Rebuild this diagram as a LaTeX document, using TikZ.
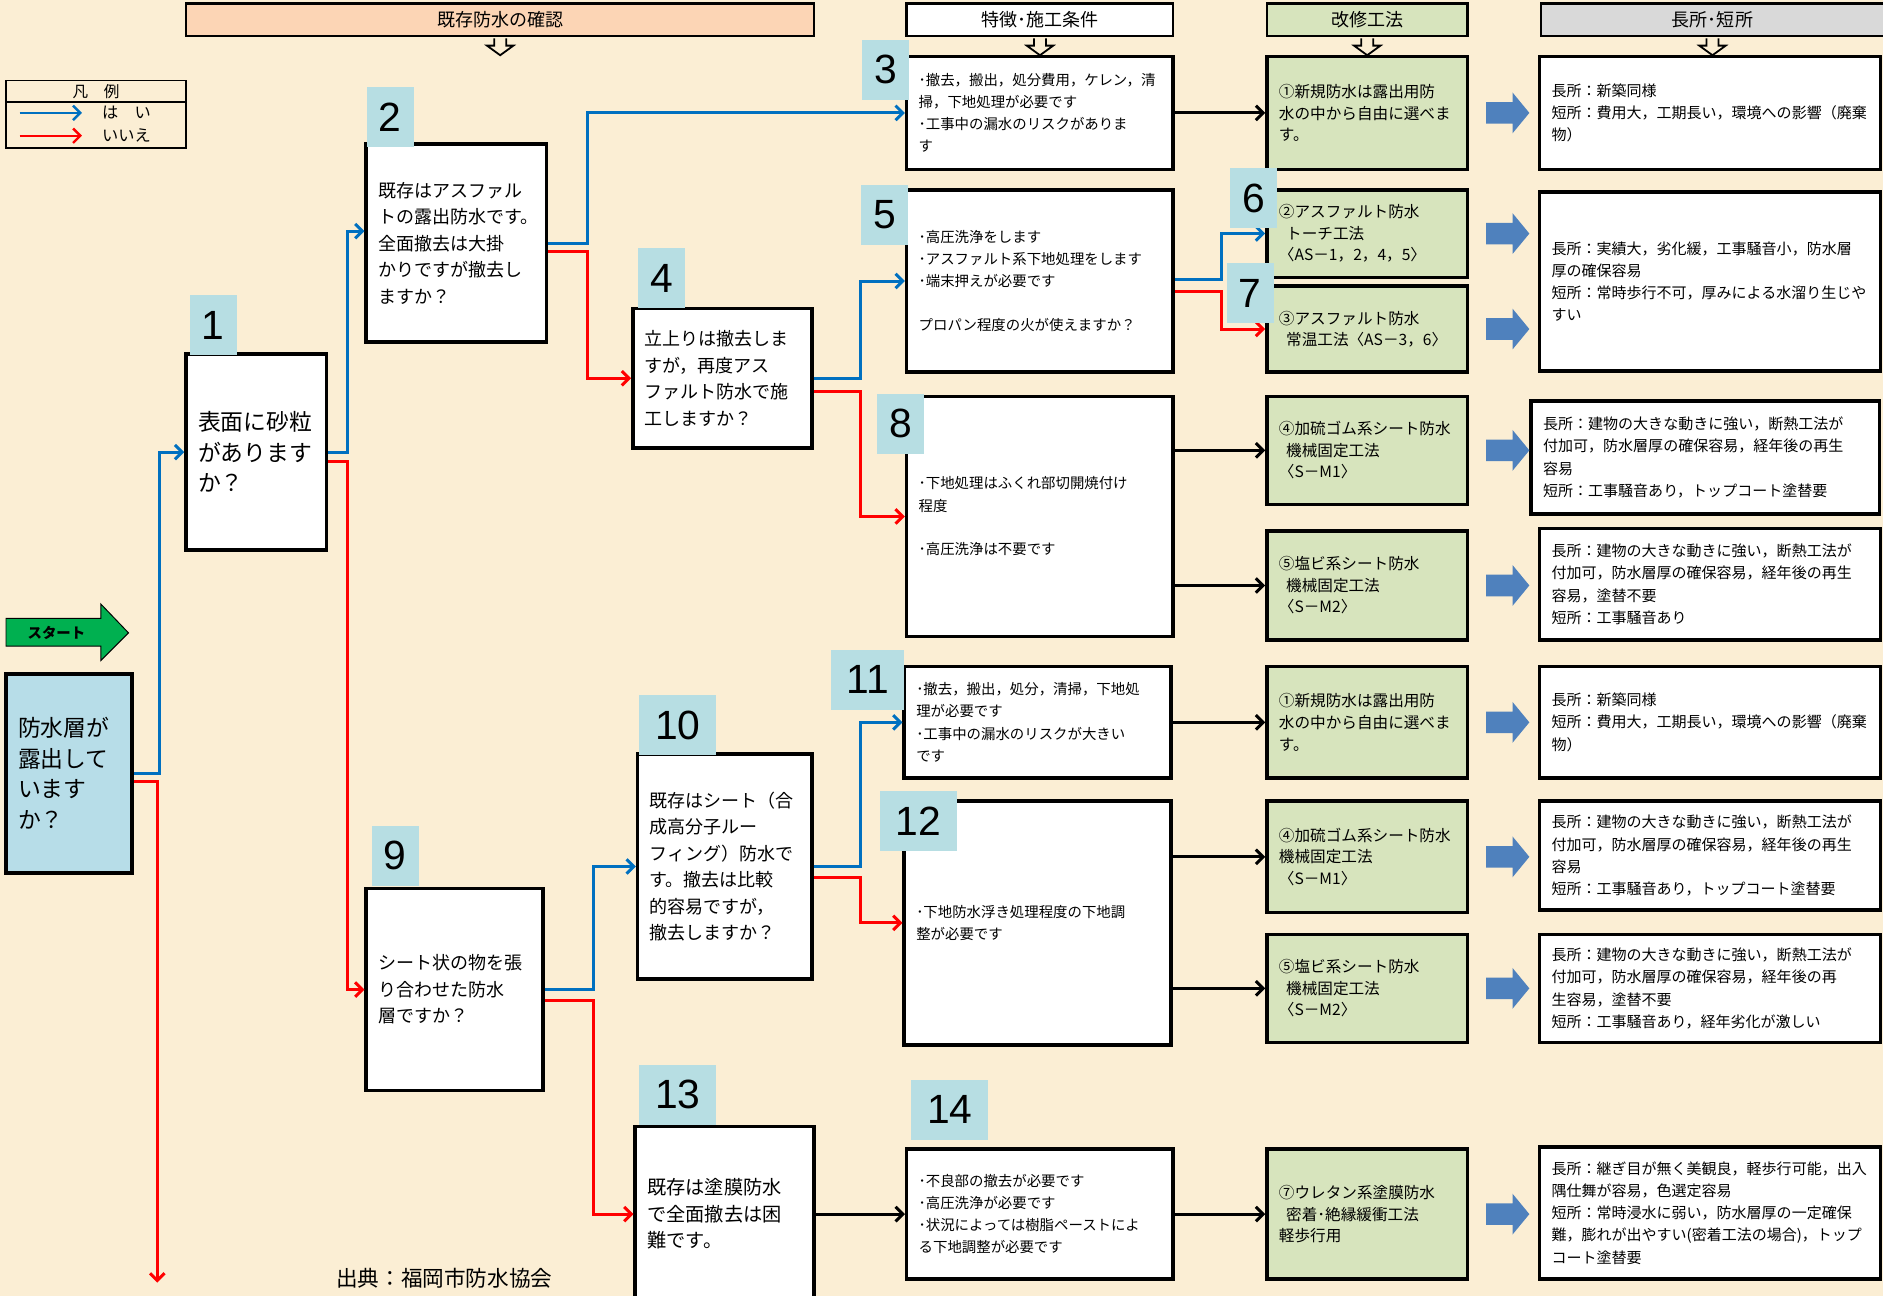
\documentclass[tikz,border=0pt]{standalone}
\usepackage{fontspec}
\setmainfont{Noto Sans CJK JP}
\newfontfamily\numfont{Liberation Sans}
\usepackage{xcolor}
\usetikzlibrary{arrows.meta,calc}
\definecolor{paper}{HTML}{FBEED4}
\definecolor{peach}{HTML}{FCD5B5}
\definecolor{grn}{HTML}{D7E4BD}
\definecolor{greyh}{HTML}{D9D9D9}
\definecolor{tealx}{HTML}{B7DEE3}
\definecolor{boxblue}{HTML}{B7DDE8}
\definecolor{yesblue}{HTML}{0070C0}
\definecolor{nored}{HTML}{FF0000}
\definecolor{blockblue}{HTML}{4F81BD}
\definecolor{startgreen}{HTML}{00B050}

\begin{document}
\begin{tikzpicture}[x=1pt,y=-1pt,
    qbox/.style 2 args={draw,line width=3pt,fill=white,inner xsep=10pt,inner ysep=0pt,
      align=left,text width=#1,minimum height=#2},
    gbox/.style 2 args={qbox={#1}{#2},fill=grn,font=\fontsize{13}{18}\selectfont},
    rbox/.style 2 args={qbox={#1}{#2},font=\fontsize{12.5}{18.5}\selectfont},
    bigf/.style={font=\fontsize{19}{25.5}\selectfont},
    qf/.style={font=\fontsize{15}{22}\selectfont},
    inf/.style={font=\fontsize{12}{18.5}\selectfont},
    num/.style={fill=tealx,inner sep=0pt,minimum width=39pt,minimum height=50pt,
      font=\numfont\fontsize{34}{34}\selectfont},
    wnum/.style={num,minimum width=64pt},
    hdr/.style={draw,line width=2pt,inner sep=0pt,minimum height=27pt,
      font=\fontsize{15}{15}\selectfont},
    yesln/.style={draw=yesblue,line width=2.5pt,-{Straight Barb[length=6pt,width=12pt]}},
    noln/.style={yesln,draw=nored},
    blkln/.style={yesln,draw=black}]

    \useasboundingbox (0,0) rectangle (1568,1079);
    \fill[paper] (0,0) rectangle (1568,1079);

    % column headers
    \node[hdr,fill=peach,minimum width=523pt] (h1) at (416.5,16.5) {既存防水の確認};
    \node[hdr,fill=white,minimum width=222pt] (h2) at (866,16.5) {特徴･施工条件};
    \node[hdr,fill=grn,minimum width=167pt] (h3) at (1138.5,16.5) {改修工法};
    \node[hdr,fill=greyh,minimum width=286pt] (h4) at (1426,16.5) {長所･短所};
    \foreach \h in {h1,h2,h3,h4}
      \filldraw[fill=paper,line width=1.5pt] ($(\h.south)+(-5,1)$) -- ++(0,6) -- ++(-6,0)
        -- ++(11,8) -- ++(11,-8) -- ++(-6,0) -- ++(0,-6);

    % legend
    \node[draw,line width=1.5pt,minimum width=150pt,minimum height=18pt,inner sep=0pt,
      font=\fontsize{13}{13}\selectfont] (legT) at (80,76) {凡　例};
    \node[draw,line width=1.5pt,minimum width=150pt,minimum height=38pt] (legB) at (80,104) {};
    \draw[yesln,line width=2pt] ($(legB.west)+(12,-10)$) -- ++(52,0);
    \draw[noln,line width=2pt] ($(legB.west)+(12,9)$) -- ++(52,0);
    \node[font=\fontsize{13.5}{13.5}\selectfont] (legY) at ($(legB.west)+(101,-10)$) {は　い};
    \node[font=\fontsize{13.5}{13.5}\selectfont] (legN) at ($(legB.west)+(101,9)$) {いいえ};

    % start
    \filldraw[fill=startgreen,line width=0.8pt] (5,515) -- (84,515) -- (84,503) -- (107,527)
      -- (84,550) -- (84,538) -- (5,538) -- cycle;
    \node[font=\bfseries\fontsize{12}{12}\selectfont] (start) at (47,527) {スタート};

    % questions and conditions
    \node[qbox={85pt}{166pt},fill=boxblue,bigf] (q0) at (57.5,644) {防水層が\\露出して\\います\\か？};
    \node[qbox={97pt}{163pt},bigf] (q1) at (213.5,376.5) {表面に砂粒\\があります\\か？};
    \node[qbox={130pt}{165pt},qf] (q2) at (380,202.5)
      {既存はアスファル\\トの露出防水です。\\全面撤去は大掛\\かりですが撤去し\\ますか？};
    \node[qbox={202pt}{94pt},inf] (q3) at (866,94)
      {･撤去，搬出，処分費用，ケレン，清\\掃，下地処理が必要です\\･工事中の漏水のリスクがありま\\す};
    \node[qbox={129pt}{116pt},qf] (q4) at (601.5,315)
      {立上りは撤去しま\\すが，再度アス\\ファルト防水で施\\工しますか？};
    \node[qbox={202pt}{152pt},inf] (q5) at (866,234)
      {･高圧洗浄をします\\･アスファルト系下地処理をします\\･端末押えが必要です\\[18pt]プロパン程度の火が使えますか？};
    \node[qbox={202pt}{200pt},inf] (q8) at (866,430)
      {･下地処理はふくれ部切開焼付け\\程度\\[18pt]･高圧洗浄は不要です};
    \node[qbox={127pt}{168pt},qf] (q9) at (378.5,824)
      {シート状の物を張\\り合わせた防水\\層ですか？};
    \node[qbox={125pt}{187pt},qf] (q10) at (603.5,721.5)
      {既存はシート（合\\成高分子ルー\\フィング）防水で\\す。撤去は比較\\的容易ですが，\\撤去しますか？};
    \node[qbox={202pt}{93pt},inf] (q11) at (864,601.5)
      {･撤去，搬出，処分，清掃，下地処\\理が必要です\\･工事中の漏水のリスクが大きい\\です};
    \node[qbox={202pt}{203pt},inf] (q12) at (864,768.5)
      {･下地防水浮き処理程度の下地調\\整が必要です};
    \node[qbox={129pt}{146pt},font=\fontsize{16}{22}\selectfont] (q13) at (603.5,1011)
      {既存は塗膜防水\\で全面撤去は困\\難です。};
    \node[qbox={202pt}{108pt},inf] (q14) at (866,1011)
      {･不良部の撤去が必要です\\･高圧洗浄が必要です\\･状況によっては樹脂ペーストによ\\る下地調整が必要です};

    % methods
    \node[gbox={147pt}{94pt}] (g1) at (1138.5,94) {①新規防水は露出用防\\水の中から自由に選べま\\す。};
    \node[gbox={147pt}{73pt}] (g2) at (1138.5,194.5)
      {②アスファルト防水\\\hspace*{6pt}トーチ工法\\〈AS－1，2，4，5〉};
    \node[gbox={147pt}{72pt}] (g3) at (1138.5,274) {③アスファルト防水\\\hspace*{6pt}常温工法〈AS－3，6〉};
    \node[gbox={147pt}{90pt}] (g4) at (1138.5,375) {④加硫ゴム系シート防水\\\hspace*{6pt}機械固定工法\\〈S－M1〉};
    \node[gbox={147pt}{91pt}] (g5) at (1138.5,487.5) {⑤塩ビ系シート防水\\\hspace*{6pt}機械固定工法\\〈S－M2〉};
    \node[gbox={147pt}{93pt}] (g6) at (1138.5,601.5) {①新規防水は露出用防\\水の中から自由に選べま\\す。};
    \node[gbox={147pt}{93pt}] (g7) at (1138.5,713.5) {④加硫ゴム系シート防水\\機械固定工法\\〈S－M1〉};
    \node[gbox={147pt}{90pt}] (g8) at (1138.5,823) {⑤塩ビ系シート防水\\\hspace*{6pt}機械固定工法\\〈S－M2〉};
    \node[gbox={147pt}{108pt}] (g9) at (1138.5,1011) {⑦ウレタン系塗膜防水\\\hspace*{6pt}密着･絶縁緩衝工法\\軽歩行用};

    % merits / demerits
    \node[rbox={264pt}{94pt}] (r1) at (1424,94)
      {長所：新築同様\\短所：費用大，工期長い，環境への影響（廃棄\\物）};
    \node[rbox={264pt}{149pt}] (r2) at (1424,234.5)
      {長所：実績大，劣化緩，工事騒音小，防水層\\厚の確保容易\\短所：常時歩行不可，厚みによる水溜り生じや\\すい};
    \node[rbox={270pt}{94pt}] (r3) at (1420,381)
      {長所：建物の大きな動きに強い，断熱工法が\\付加可，防水層厚の確保容易，経年後の再生\\容易\\短所：工事騒音あり，トップコート塗替要};
    \node[rbox={264pt}{93pt}] (r4) at (1424,486.5)
      {長所：建物の大きな動きに強い，断熱工法が\\付加可，防水層厚の確保容易，経年後の再生\\容易，塗替不要\\短所：工事騒音あり};
    \node[rbox={264pt}{93pt}] (r5) at (1424,601.5)
      {長所：新築同様\\短所：費用大，工期長い，環境への影響（廃棄\\物）};
    \node[rbox={264pt}{91pt}] (r6) at (1424,712.5)
      {長所：建物の大きな動きに強い，断熱工法が\\付加可，防水層厚の確保容易，経年後の再生\\容易\\短所：工事騒音あり，トップコート塗替要};
    \node[rbox={264pt}{90pt}] (r7) at (1424,823)
      {長所：建物の大きな動きに強い，断熱工法が\\付加可，防水層厚の確保容易，経年後の再\\生容易，塗替不要\\短所：工事騒音あり，経年劣化が激しい};
    \node[rbox={264pt}{110pt}] (r8) at (1424,1010)
      {長所：継ぎ目が無く美観良，軽歩行可能，出入\\隅仕舞が容易，色選定容易\\短所：常時浸水に弱い，防水層厚の一定確保\\難，膨れが出やすい(密着工法の場合)，トップ\\コート塗替要};

    % yes / no branches
    \coordinate (bEnd) at (131,1068);
    \draw[yesln] (q0.east) -- ++(21,0) |- (q1.west);
    \draw[noln] ([yshift=-7pt]q0.east) -| (bEnd);
    \draw[yesln] (q1.east) -- ++(16,0) |- ([yshift=10pt]q2.west);
    \draw[noln] ([yshift=-8pt]q1.east) -- ++(16,0) |- (q9.west);
    \draw[yesln] (q2.east) -- ++(33,0) |- (q3.west);
    \draw[noln] ([yshift=-7pt]q2.east) -- ++(33,0) |- (q4.west);
    \draw[yesln] (q4.east) -- ++(39,0) |- (q5.west);
    \draw[noln] ([yshift=-11pt]q4.east) -- ++(39,0) |- (q8.west);
    \draw[yesln] ([yshift=1pt]q5.east) -- ++(39,0) |- (g2.west);
    \draw[noln] ([yshift=-9pt]q5.east) -- ++(39,0) |- (g3.west);
    \draw[yesln] (q9.east) -- ++(41,0) |- (q10.west);
    \draw[noln] ([yshift=-9pt]q9.east) -- ++(41,0) |- (q13.west);
    \draw[yesln] (q10.east) -- ++(39,0) |- (q11.west);
    \draw[noln] ([yshift=-9pt]q10.east) -- ++(39,0) |- (q12.west);

    % to the methods
    \draw[blkln] (q3) -- (g1);
    \draw[blkln] (q8.east |- g4.west) -- (g4.west);
    \draw[blkln] (q8.east |- g5.west) -- (g5.west);
    \draw[blkln] (q11) -- (g6);
    \draw[blkln] (q12.east |- g7.west) -- (g7.west);
    \draw[blkln] (q12.east |- g8.west) -- (g8.west);
    \draw[blkln] (q13) -- (q14);
    \draw[blkln] (q14) -- (g9);

    % block arrows
    \foreach \g in {g1,g2,g3,g4,g5,g6,g7,g8,g9}
      \fill[blockblue] ($(\g.east)+(14,-9)$) -- ++(22,0) -- ++(0,-8) -- ++(14,17)
        -- ++(-14,17) -- ++(0,-8) -- ++(-22,0) -- cycle;

    % step numbers
    \node[num] (l1) at (177.5,271) {1};
    \node[num] (l2) at (325,97.5) {2};
    \node[num] (l3) at (737.5,58) {3};
    \node[num] (l4) at (551,231.5) {4};
    \node[num] (l5) at (736.5,179) {5};
    \node[num] (l6) at (1044,165) {6};
    \node[num] (l7) at (1041,244) {7};
    \node[num] (l8) at (750,353) {8};
    \node[num] (l9) at (329,712.5) {9};
    \node[wnum] (l10) at (564.5,604) {10};
    \node[wnum,minimum width=61pt] (l11) at (722.5,566) {11};
    \node[wnum] (l12) at (764.5,684) {12};
    \node[wnum] (l13) at (564.5,911.5) {13};
    \node[wnum] (l14) at (791,924) {14};

    \node[font=\fontsize{18}{18}\selectfont] (src) at (370,1064) {出典：福岡市防水協会};
    \node[font=\numfont\fontsize{18}{18}\selectfont] (bmark) at (190,1088) {(B)};
\end{tikzpicture}
\end{document}
